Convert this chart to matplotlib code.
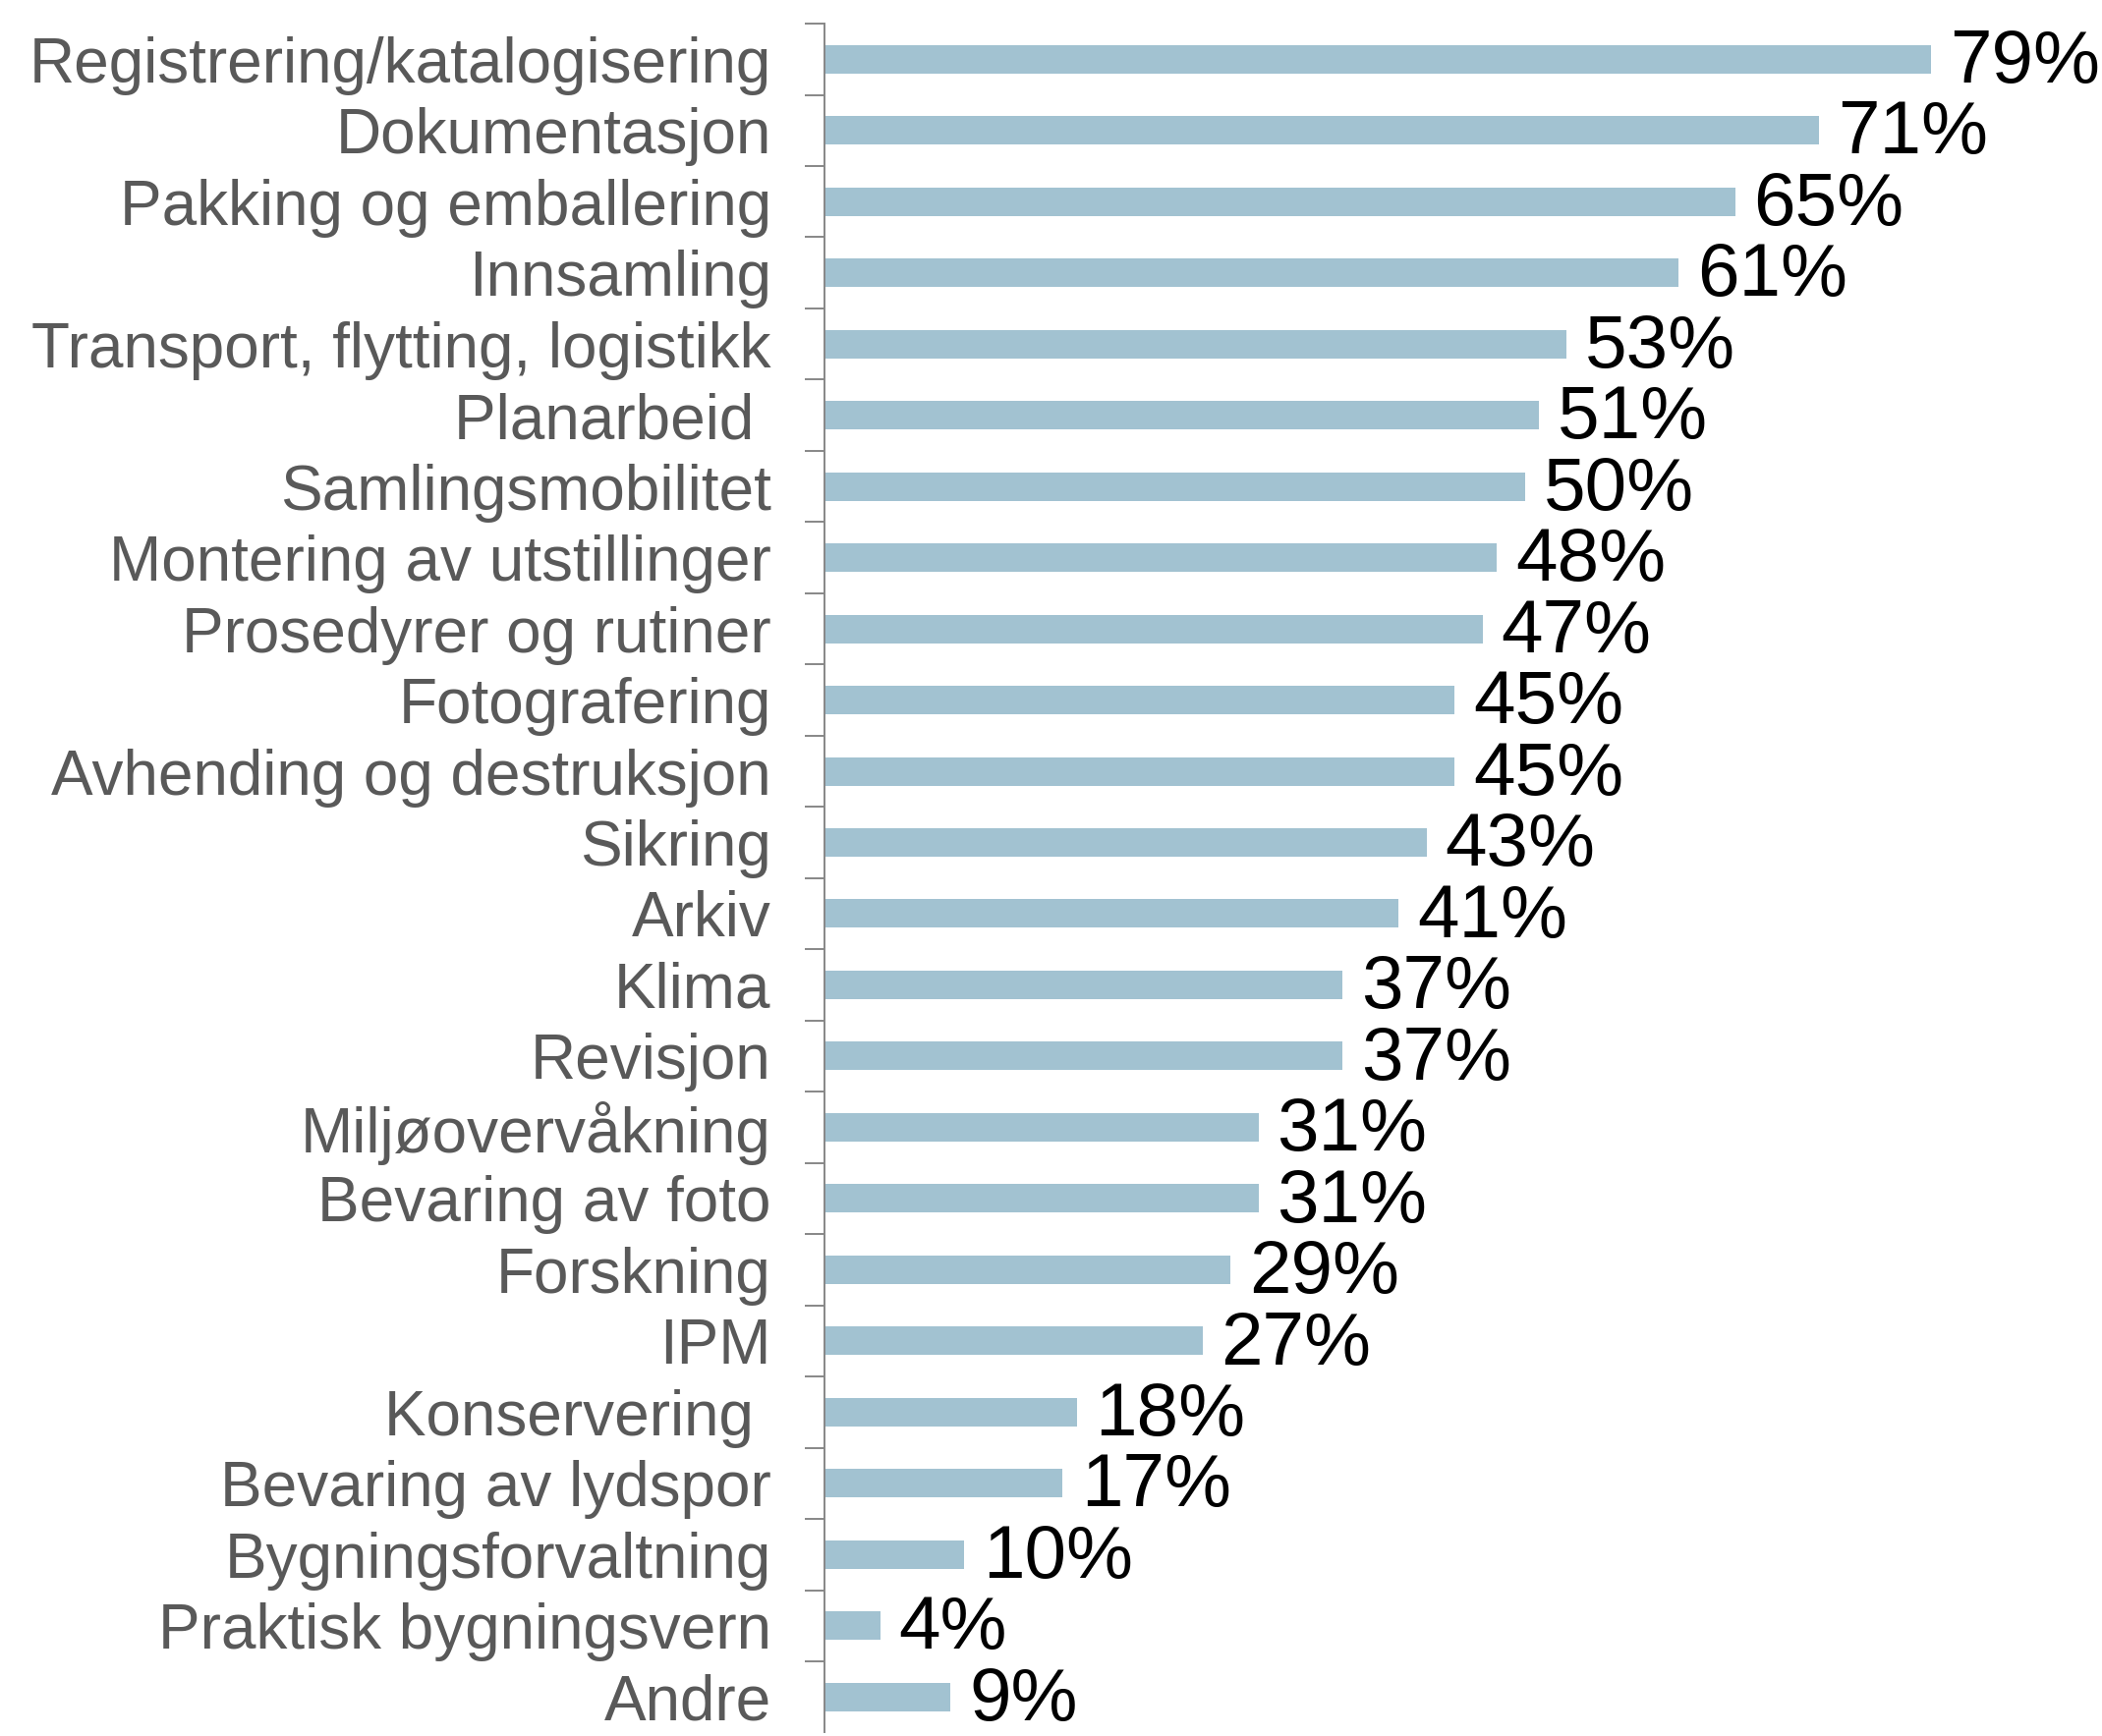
import matplotlib
matplotlib.use("Agg")
import matplotlib.pyplot as plt
import numpy as np

plt.rcParams["font.family"] = ["Liberation Sans", "DejaVu Sans"]

CATEGORIES = [
    "Registrering/katalogisering", "Dokumentasjon", "Pakking og emballering",
    "Innsamling", "Transport, flytting, logistikk", "Planarbeid ",
    "Samlingsmobilitet", "Montering av utstillinger", "Prosedyrer og rutiner",
    "Fotografering", "Avhending og destruksjon", "Sikring", "Arkiv", "Klima",
    "Revisjon", "Miljøovervåkning", "Bevaring av foto", "Forskning", "IPM",
    "Konservering ", "Bevaring av lydspor", "Bygningsforvaltning",
    "Praktisk bygningsvern", "Andre",
]
VALUES = [79, 71, 65, 61, 53, 51, 50, 48, 47, 45, 45, 43, 41, 37, 37, 31, 31,
          29, 27, 18, 17, 10, 4, 9]

BAR_COLOR = "#A2C2D1"
AXIS_COLOR = "#878787"
LABEL_COLOR = "#595959"

fig = plt.figure(figsize=(21.39, 17.67), dpi=100)
ax = fig.add_axes([0.3922, 0.002, 0.6078, 0.9844])

y = np.arange(len(CATEGORIES))
ax.barh(y, VALUES, height=0.40, color=BAR_COLOR)

# value labels, nudged down so the digits sit on the bar centre
for yi, v in zip(y, VALUES):
    ax.annotate(f"{v}%", xy=(v, yi), xytext=(13.5, -3), textcoords="offset points",
                ha="left", va="center", fontsize=55, color="black")

ax.set_ylim(len(CATEGORIES) - 0.5, -0.5)
ax.set_xlim(0, 91.2)

# category labels at bar centres, tick marks between categories
ax.set_yticks(y)
ax.set_yticklabels(CATEGORIES, fontsize=46, color=LABEL_COLOR)
ax.set_yticks(np.arange(len(CATEGORIES)) - 0.5, minor=True)
ax.tick_params(axis="y", which="major", length=0, pad=39)
ax.tick_params(axis="y", which="minor", length=14.4, width=1.4, color=AXIS_COLOR)

ax.set_xticks([])
for side in ["top", "right", "bottom"]:
    ax.spines[side].set_visible(False)
ax.spines["left"].set_color(AXIS_COLOR)
ax.spines["left"].set_linewidth(1.4)

fig.savefig("out.png", dpi=100)
